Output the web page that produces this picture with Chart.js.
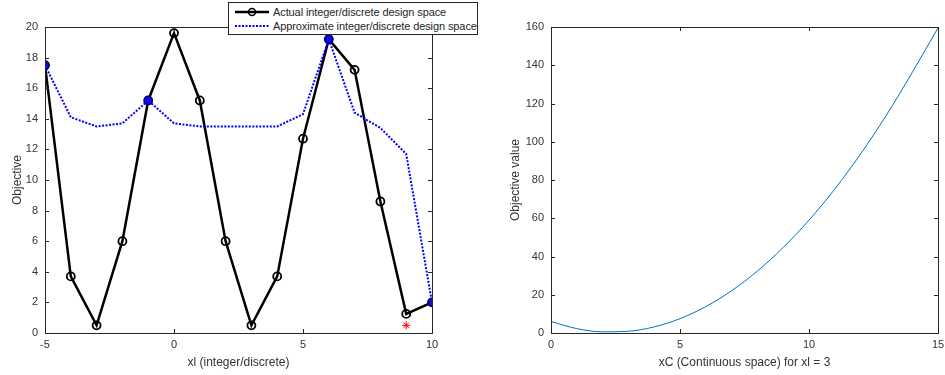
<!DOCTYPE html>
<html>
<head>
<meta charset="utf-8">
<script src="https://cdn.jsdelivr.net/npm/chart.js@4/dist/chart.umd.min.js"></script>
<style>
  html, body { margin: 0; padding: 0; background: #fff; }
  body { width: 945px; height: 375px; position: relative; overflow: hidden; font-family: "Liberation Sans", Arial, sans-serif; }
  #leftWrap { position: absolute; left: 0; top: 0; width: 480px; height: 375px; }
  #rightWrap { position: absolute; left: 480px; top: 0; width: 465px; height: 375px; }
  #legend {
    position: absolute; left: 228px; top: 2px; width: 248px; height: 31px;
    background: #fff; border: 1px solid #262626; font-size: 11px; color: #262626;
  }
  .row { position: absolute; left: 4px; height: 14px; line-height: 14px; white-space: nowrap; }
  .row svg { position: absolute; left: 0; top: 0; }
  .row span { position: absolute; left: 40px; top: 0; letter-spacing: -0.1px; }
</style>
</head>
<body>
<div id="leftWrap"><canvas id="discreteChart" width="480" height="375"></canvas></div>
<div id="rightWrap"><canvas id="continuousChart" width="465" height="375"></canvas></div>
<div id="legend">
  <div class="row" style="top:2px">
    <svg width="38" height="14"><line x1="2" y1="7" x2="36" y2="7" stroke="#000" stroke-width="2.5"/><circle cx="19" cy="7" r="3.5" fill="none" stroke="#000" stroke-width="1.5"/></svg>
    <span>Actual integer/discrete design space</span>
  </div>
  <div class="row" style="top:16px">
    <svg width="38" height="14"><line x1="2" y1="7" x2="36" y2="7" stroke="#0000ff" stroke-width="2" stroke-dasharray="2,1.5"/></svg>
    <span>Approximate integer/discrete design space</span>
  </div>
</div>
<script>
const xI = [-5, -4, -3, -2, -1, 0, 1, 2, 3, 4, 5, 6, 7, 8, 9, 10];
const actualObj = [17.5, 3.7, 0.5, 6.0, 15.2, 19.6, 15.2, 6.0, 0.5, 3.7, 12.7, 19.2, 17.2, 8.6, 1.25, 2.0];
const approxObj = [17.5, 14.1, 13.5, 13.7, 15.2, 13.7, 13.5, 13.5, 13.5, 13.5, 14.3, 19.2, 14.4, 13.4, 11.7, 2.0];
const sampleX = [-5, -1, 6, 10];
const sampleObj = [17.5, 15.2, 19.2, 2.0];
const bestX = [9];
const bestObj = [0.5];

const xC = [0, 1, 2, 3, 4, 5, 6, 7, 8, 9, 10, 11, 12, 13, 14, 15];
const contObj = [6.0, 2.3, 0.6, 0.9, 3.2, 7.5, 13.8, 22.1, 32.4, 44.7, 59.0, 75.3, 93.6, 113.9, 136.2, 159.5];

const AXIS = "#262626";
const TEXT = "#333333";
const FONT = "'Liberation Sans', Arial, sans-serif";

const toPoints = (xs, ys) => xs.map((x, i) => ({ x, y: ys[i] }));

// MATLAB-style box with inward tick marks
const matlabBox = {
  id: "matlabBox",
  afterDraw(chart) {
    const { ctx, chartArea: a, scales } = chart;
    ctx.save();
    ctx.strokeStyle = AXIS;
    ctx.lineWidth = 1;
    ctx.strokeRect(Math.round(a.left) + 0.5, Math.round(a.top) + 0.5, Math.round(a.right - a.left), Math.round(a.bottom - a.top));
    ctx.beginPath();
    scales.x.ticks.forEach((t) => {
      const px = Math.round(scales.x.getPixelForValue(t.value)) + 0.5;
      ctx.moveTo(px, a.bottom); ctx.lineTo(px, a.bottom - 4);
      ctx.moveTo(px, a.top); ctx.lineTo(px, a.top + 4);
    });
    scales.y.ticks.forEach((t) => {
      const py = Math.round(scales.y.getPixelForValue(t.value)) + 0.5;
      ctx.moveTo(a.left, py); ctx.lineTo(a.left + 4, py);
      ctx.moveTo(a.right, py); ctx.lineTo(a.right - 4, py);
    });
    ctx.stroke();
    ctx.restore();
  }
};

function axisOpts(min, max, step, title, titlePad, fixedSize, isY) {
  return {
    type: "linear",
    min, max,
    grid: { display: false, drawTicks: false },
    border: { display: false },
    ticks: { stepSize: step, color: TEXT, font: { family: FONT, size: 11 }, padding: isY ? 7 : 5 },
    title: { display: true, text: title, color: TEXT, font: { family: FONT, size: 12 }, padding: isY ? { top: titlePad } : { bottom: titlePad } },
    afterFit: (scale) => {
      if (isY) {
        scale.width = fixedSize;
        scale.paddingTop = 0; scale.paddingBottom = 0;
      } else {
        scale.height = fixedSize;
        scale.paddingLeft = 0; scale.paddingRight = 0;
      }
    }
  };
}

new Chart(document.getElementById("discreteChart").getContext("2d"), {
  type: "line",
  data: {
    datasets: [
      { data: toPoints(bestX, bestObj), showLine: false, pointStyle: "star", pointRadius: 4, borderColor: "#ff0000", borderWidth: 1, order: 0 },
      { data: toPoints(sampleX, sampleObj), showLine: false, pointStyle: "circle", pointRadius: 4, backgroundColor: "#0a0aff", borderColor: "#00007a", borderWidth: 1, order: 1 },
      { label: "Approximate integer/discrete design space", data: toPoints(xI, approxObj), borderColor: "#0000ff", borderWidth: 2, borderDash: [2, 1.5], pointRadius: 0, tension: 0, order: 2 },
      { label: "Actual integer/discrete design space", data: toPoints(xI, actualObj), borderColor: "#000000", borderWidth: 2.5, pointRadius: 4, pointBorderWidth: 1.8, pointBackgroundColor: "rgba(0,0,0,0)", pointBorderColor: "#000", tension: 0, order: 3 }
    ]
  },
  options: {
    responsive: false,
    animation: false,
    layout: { padding: { top: 27, right: 48, left: 0, bottom: 0 } },
    plugins: { legend: { display: false }, tooltip: { enabled: false } },
    scales: {
      x: axisOpts(-5, 10, 5, "xl (integer/discrete)", 5, 42, false),
      y: axisOpts(0, 20, 2, "Objective", 10, 45, true)
    }
  },
  plugins: [matlabBox]
});

new Chart(document.getElementById("continuousChart").getContext("2d"), {
  type: "line",
  data: {
    datasets: [
      { data: toPoints(xC, contObj), borderColor: "#0072BD", borderWidth: 1, pointRadius: 0, cubicInterpolationMode: "monotone" }
    ]
  },
  options: {
    responsive: false,
    animation: false,
    layout: { padding: { top: 27, right: 7, left: 0, bottom: 0 } },
    plugins: { legend: { display: false }, tooltip: { enabled: false } },
    scales: {
      x: axisOpts(0, 15, 5, "xC (Continuous space) for xl = 3", 5, 42, false),
      y: axisOpts(0, 160, 20, "Objective value", 28, 71, true)
    }
  },
  plugins: [matlabBox]
});
</script>
</body>
</html>
